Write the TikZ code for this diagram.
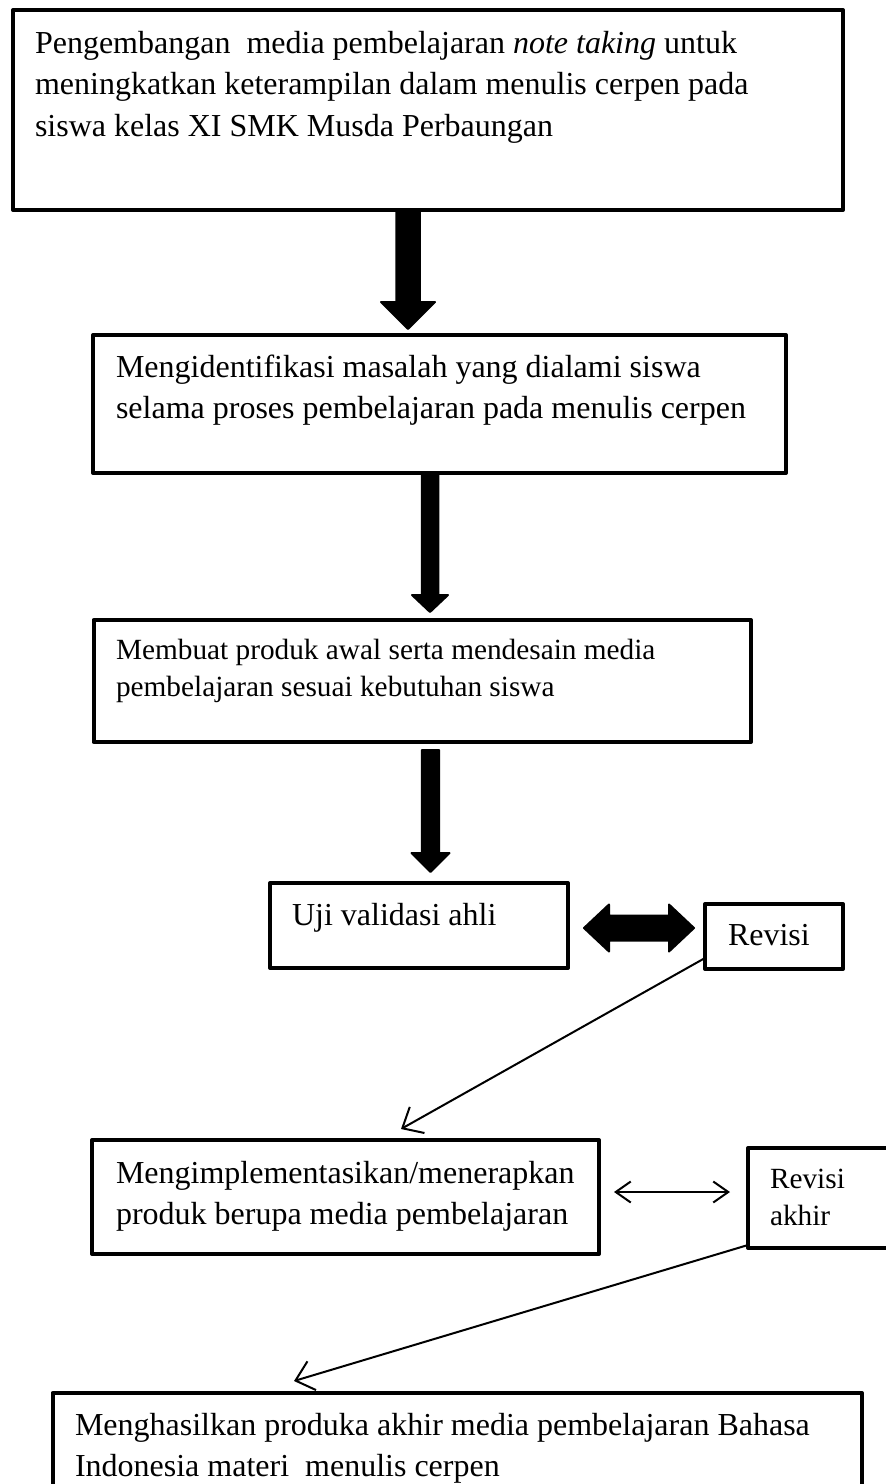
\documentclass[tikz,border=0pt]{standalone}
\usepackage{fontspec}
\setmainfont{Liberation Serif}
\usetikzlibrary{arrows.meta}
\newcommand\mylines[1]{\begin{tabular}[t]{@{}l@{}}#1\end{tabular}}
% block arrow pointing down: #1 start coordinate, #2 shaft half width, #3 head half width, #4 shaft length, #5 head length
\newcommand\blockdown[5]{%
  \fill[blk] (#1) ++(-#2,0) -- ++(2*#2,0) -- ++(0,#4) -- ++(#3-#2,0) -- ++(-#3,#5) -- ++(-#3,-#5) -- ++(#3-#2,0) -- cycle;}
\begin{document}
\begin{tikzpicture}[x=1pt,y=-1pt,
  box/.style={draw=black, line width=4pt, line join=round, rectangle, inner sep=0pt, outer sep=0pt, anchor=north west},
  txt/.style={anchor=base west, inner sep=0pt, outer sep=0pt, font=\fontsize{32}{41.5}\selectfont},
  txts/.style={anchor=base west, inner sep=0pt, outer sep=0pt, font=\fontsize{29.3}{37.5}\selectfont},
  blk/.style={fill=black, draw=black, line width=2pt, line join=round},
  thinarrow/.style={draw=black, line width=2pt, -{Straight Barb[length=17pt,width=30pt,line width=2pt]}},
  twoway/.style={draw=black, line width=2pt, {Straight Barb[length=15pt,width=21pt,line width=2pt]}-{Straight Barb[length=15pt,width=21pt,line width=2pt]}},
]
\useasboundingbox (0,0) rectangle (886,1484);
\clip (0,0) rectangle (886,1484);
\fill[white] (0,0) rectangle (886,1484);

% boxes
\node[box, minimum width=830pt, minimum height=200pt] (b1) at (13,10) {};
\node[box, minimum width=693pt, minimum height=138pt] (b2) at (93,335) {};
\node[box, minimum width=657.5pt, minimum height=122pt] (b3) at (93.5,620) {};
\node[box, minimum width=298pt, minimum height=85pt] (b4) at (270,883) {};
\node[box, minimum width=138pt, minimum height=65pt] (rev) at (705,904) {};
\node[box, minimum width=507pt, minimum height=114pt] (b5) at (92,1140) {};
\node[box, minimum width=160pt, minimum height=100pt] (reva) at (748,1148) {};
\node[box, minimum width=809.5pt, minimum height=140pt] (b6) at (52.5,1393) {};

% texts
\node[txt] (t1) at (35,53) {\mylines{Pengembangan~ media pembelajaran \textit{note taking} untuk\\ meningkatkan keterampilan dalam menulis cerpen pada\\ siswa kelas XI SMK Musda Perbaungan}};
\node[txt] (t2) at (116,377) {\mylines{Mengidentifikasi masalah yang dialami siswa\\ selama proses pembelajaran pada menulis cerpen}};
\node[txts] (t3) at (116,659) {\mylines{Membuat produk awal serta mendesain media\\ pembelajaran sesuai kebutuhan siswa}};
\node[txt] (t4) at (292,925) {Uji validasi ahli};
\node[txt] (trev) at (728,945) {Revisi};
\node[txt] (t5) at (116,1183) {\mylines{Mengimplementasikan/menerapkan\\ produk berupa media pembelajaran}};
\node[txts] (treva) at (770,1188) {\mylines{Revisi\\ akhir}};
\node[txt] (t6) at (75,1435) {\mylines{Menghasilkan produka akhir media pembelajaran Bahasa\\ Indonesia materi~ menulis cerpen}};

% thick block arrows
\coordinate (a1) at (408,211);
\coordinate (a2) at (430,474);
\coordinate (a3) at (430.5,750);
\blockdown{a1}{11.75}{27}{91}{27}
\blockdown{a2}{8.25}{18}{121}{17}
\blockdown{a3}{8.6}{19}{103}{19}

% thick double arrow between b4 and rev
\coordinate (dl) at (584,928);
\coordinate (dr) at (694,928);
\fill[blk] (dl) -- ++(25,-23.5) -- ++(0,11) -- ++(60,0) -- ++(0,-11) -- (dr) -- ++(-25,23.5) -- ++(0,-11) -- ++(-60,0) -- ++(0,11) -- cycle;

% thin arrows
\coordinate (r1s) at (705,958);
\coordinate (r1e) at (401,1129);
\draw[thinarrow] (r1s) -- (r1e);
\coordinate (s5) at (614,1192);
\coordinate (sra) at (730,1192);
\draw[twoway] (s5) -- (sra);
\coordinate (r2s) at (748,1245);
\coordinate (r2e) at (294,1381);
\draw[thinarrow] (r2s) -- (r2e);
\end{tikzpicture}
\end{document}
